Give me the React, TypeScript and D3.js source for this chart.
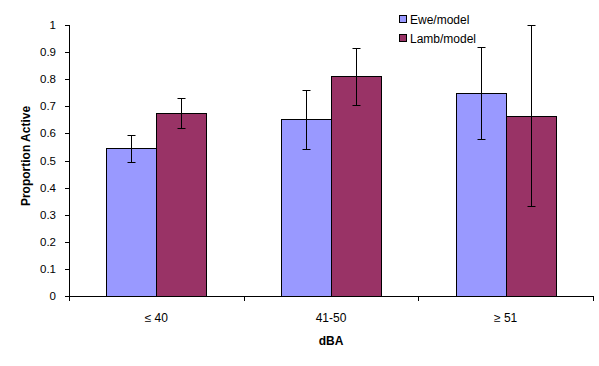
import React from 'react';
import * as d3 from 'd3';

const categories = ['≤ 40', '41-50', '≥ 51'];
const seriesNames = ['Ewe/model', 'Lamb/model'];
const seriesColors = ['#9999FF', '#993366'];
const eweValues = [0.545, 0.652, 0.748];
const eweErrors = [0.05, 0.108, 0.17];
const lambValues = [0.676, 0.81, 0.665];
const lambErrors = [0.056, 0.105, 0.334];
const yTicks = [0, 0.1, 0.2, 0.3, 0.4, 0.5, 0.6, 0.7, 0.8, 0.9, 1];

const W = 599, H = 366;
const left = 69, right = 593, top = 25, bottom = 296;
const font = 'Arial, "Liberation Sans", sans-serif';

export default function App() {
	const x = d3.scaleBand<string>().domain(categories).range([left, right]).paddingInner(0).paddingOuter(0);
	// two bars per group, gap on each side ~ 0.75 of a bar
	const inner = d3.scaleBand<string>().domain(seriesNames).range([0, x.bandwidth()]).paddingInner(0).paddingOuter(0.747);
	const y = d3.scaleLinear().domain([0, 1]).range([bottom, top]);

	const values = [eweValues, lambValues];
	const errors = [eweErrors, lambErrors];

	return (
		<svg width={W} height={H} style={{ position: 'absolute', left: 0, top: 0, background: '#fff' }}>
			{/* bars */}
			{seriesNames.map((s, si) =>
				categories.map((c, ci) => {
					const bx = Math.round(x(c)! + inner(s)!) + 0.5;
					const v = values[si][ci];
					return (
						<rect key={s + c} x={bx} y={Math.round(y(v)) + 0.5} width={Math.round(inner.bandwidth())} height={bottom - Math.round(y(v))}
							fill={seriesColors[si]} stroke="#000" strokeWidth={1} />
					);
				})
			)}
			{/* error bars */}
			{seriesNames.map((s, si) =>
				categories.map((c, ci) => {
					const cx = Math.round(x(c)! + inner(s)! + inner.bandwidth() / 2) + 0.5;
					const v = values[si][ci], e = errors[si][ci];
					const y1 = Math.round(y(Math.min(1, v + e))) + 0.5, y0 = Math.round(y(v - e)) + 0.5;
					return (
						<g key={'e' + s + c} stroke="#000" strokeWidth={1}>
							<line x1={cx} x2={cx} y1={y1} y2={y0} />
							<line x1={cx - 4} x2={cx + 4} y1={y1} y2={y1} />
							<line x1={cx - 4} x2={cx + 4} y1={y0} y2={y0} />
						</g>
					);
				})
			)}
			{/* y axis */}
			<line x1={left + 0.5} x2={left + 0.5} y1={top} y2={bottom} stroke="#000" />
			{yTicks.map(t => (
				<g key={t}>
					<line x1={left - 4} x2={left} y1={Math.round(y(t)) + 0.5} y2={Math.round(y(t)) + 0.5} stroke="#000" />
					<text x={left - 13} y={y(t) + 4} textAnchor="end" fontFamily={font} fontSize={11.5}>{t}</text>
				</g>
			))}
			{/* x axis */}
			<line x1={left} x2={right} y1={bottom + 0.5} y2={bottom + 0.5} stroke="#000" />
			{[...categories.map(c => x(c)!), right].map((tx, i) => (
				<line key={i} x1={Math.round(tx) + 0.5} x2={Math.round(tx) + 0.5} y1={bottom} y2={bottom + 5} stroke="#000" />
			))}
			{categories.map(c => (
				<text key={c} x={x(c)! + x.bandwidth() / 2} y={322} textAnchor="middle" fontFamily={font} fontSize={12}>{c}</text>
			))}
			<text x={(left + right) / 2} y={345} textAnchor="middle" fontFamily={font} fontSize={12} fontWeight="bold">dBA</text>
			<text transform="translate(30,156) rotate(-90)" textAnchor="middle" fontFamily={font} fontSize={12} fontWeight="bold">Proportion Active</text>
			{/* legend */}
			{seriesNames.map((s, i) => (
				<g key={s} transform={`translate(399,${15 + i * 19})`}>
					<rect x={0.5} y={0.5} width={7} height={7} fill={seriesColors[i]} stroke="#000" />
					<text x={11} y={9} fontFamily={font} fontSize={12}>{s}</text>
				</g>
			))}
		</svg>
	);
}
